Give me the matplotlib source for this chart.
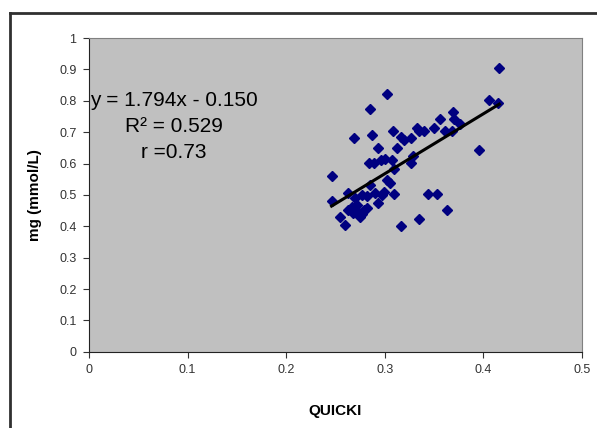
import numpy as np
import matplotlib
matplotlib.use('Agg')
import matplotlib.pyplot as plt
from matplotlib.lines import Line2D

plt.rcParams['font.family'] = ['Liberation Sans', 'DejaVu Sans']

# QUICKI vs mg (mmol/L)
quicki = [0.246, 0.246, 0.255, 0.260, 0.263, 0.263, 0.267, 0.268, 0.270, 0.272,
          0.273, 0.275, 0.277, 0.279, 0.282, 0.282, 0.285, 0.290, 0.293, 0.297,
          0.299, 0.309, 0.302, 0.305, 0.269, 0.285, 0.302, 0.287, 0.284, 0.289,
          0.296, 0.307, 0.293, 0.308, 0.312, 0.316, 0.319, 0.327, 0.333, 0.335,
          0.340, 0.350, 0.356, 0.369, 0.370, 0.361, 0.368, 0.376, 0.395, 0.329,
          0.327, 0.309, 0.344, 0.353, 0.363, 0.335, 0.316, 0.406, 0.415, 0.416,
          0.300, 0.277]
mg = [0.560, 0.482, 0.431, 0.404, 0.505, 0.452, 0.463, 0.441, 0.489, 0.468,
      0.447, 0.431, 0.500, 0.452, 0.457, 0.496, 0.532, 0.505, 0.473, 0.500,
      0.511, 0.503, 0.548, 0.537, 0.682, 0.773, 0.822, 0.691, 0.601, 0.601,
      0.613, 0.611, 0.651, 0.704, 0.651, 0.684, 0.675, 0.682, 0.712, 0.704,
      0.704, 0.712, 0.742, 0.763, 0.742, 0.704, 0.704, 0.726, 0.643, 0.624,
      0.601, 0.582, 0.503, 0.503, 0.452, 0.422, 0.401, 0.803, 0.793, 0.904,
      0.615, 0.440]

x = np.array(quicki)
y = np.array(mg)

fig = plt.figure(figsize=(5.97, 4.28), dpi=100)
ax = fig.add_axes([0.149, 0.178, 0.826, 0.733])
ax.set_facecolor('#C0C0C0')

ax.plot(x, y, 'D', color='#000080', ms=5.6, mec='#000080', zorder=3)

# linear trendline
k, b = np.polyfit(x, y, 1)
xx = np.array([x.min(), x.max()])
ax.plot(xx, k * xx + b, color='black', lw=2.2, zorder=4)

eq_lines = ['y = 1.794x - 0.150', 'R\u00b2 = 0.529', 'r =0.73']
for i, t in enumerate(eq_lines):
    fig.text(174 / 597, 1 - (100 + 26.5 * i) / 428, t, ha='center', va='center', fontsize=15)

ax.set_xlim(0, 0.5)
ax.set_ylim(0, 1)
ax.set_xticks(np.arange(0, 0.51, 0.1))
ax.set_xticklabels(['0', '0.1', '0.2', '0.3', '0.4', '0.5'])
ax.set_yticks(np.arange(0, 1.01, 0.1))
ax.set_yticklabels(['0', '0.1', '0.2', '0.3', '0.4', '0.5', '0.6', '0.7', '0.8', '0.9', '1'])
ax.tick_params(direction='out', length=4, width=0.8, labelsize=9, colors='#333333', pad=5)

for s in ['top', 'right']:
    ax.spines[s].set_color('#808080')
for s in ['left', 'bottom']:
    ax.spines[s].set_color('#222222')

ax.set_xlabel('QUICKI', fontsize=11, fontweight='bold', labelpad=20)
ax.set_ylabel('mg (mmol/L)', fontsize=11, fontweight='bold', labelpad=12)

# outer frame (top and left edges only)
fig.add_artist(Line2D([10 / 597, 1], [1 - 13 / 428, 1 - 13 / 428], color='#303030', lw=2))
fig.add_artist(Line2D([10 / 597, 10 / 597], [0, 1 - 13 / 428], color='#303030', lw=2))

fig.savefig('out.png', dpi=100)
